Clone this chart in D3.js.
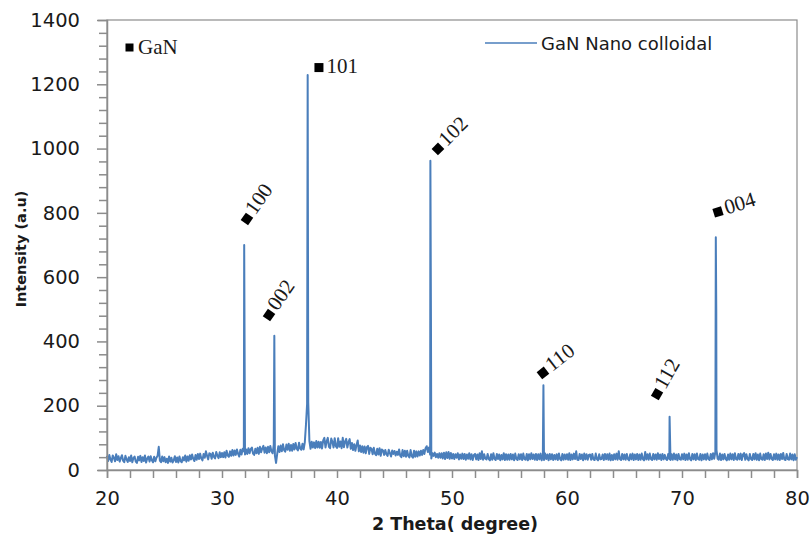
<!DOCTYPE html>
<html>
<head>
<meta charset="utf-8">
<script src="https://cdn.jsdelivr.net/npm/d3@7/dist/d3.min.js"></script>
<style>
  html, body { margin: 0; padding: 0; background: #fff; }
  svg { display: block; }
</style>
</head>
<body>
<svg id="chart" width="810" height="536"></svg>
<script>
// ---------- DATA ----------
const seriesName = "GaN Nano colloidal";
const phaseName = "GaN";
const xTicks = [20, 30, 40, 50, 60, 70, 80];
const yTicks = [0, 200, 400, 600, 800, 1000, 1200, 1400];

// background scan: 2θ from 20.0 to 80.0 in 0.1° steps
const bgStart = 20;
const bgStep = 0.1;
const background = [
  44,28,47,33,25,45,38,27,49,31,   // 20
  43,26,37,46,29,24,44,33,25,40,   // 21
  28,45,24,37,42,26,22,41,30,44,   // 22
  25,40,28,45,23,36,42,26,43,30,   // 23
  24,41,27,38,44,72,29,24,42,27,   // 24
  40,24,35,22,42,26,38,23,30,43,   // 25
  25,39,23,42,28,24,40,30,45,26,   // 26
  42,29,46,33,48,35,28,47,32,50,   // 27
  34,51,36,30,50,38,58,44,33,52,   // 28
  50,35,54,41,36,56,45,37,55,40,   // 29
  53,40,55,39,60,45,41,58,44,62,   // 30
  45,61,47,64,50,42,63,48,66,58,   // 31
  48,64,50,68,52,65,70,51,47,66,   // 32
  52,69,50,72,55,67,75,54,70,52,   // 33
  72,55,75,58,52,78,45,22,50,74,   // 34
  56,76,58,80,62,57,79,63,82,60,   // 35
  78,60,81,64,84,66,61,85,67,63,   // 36
  82,64,86,140,205,210,90,66,88,70,// 37
  86,68,90,70,88,69,87,67,92,100,  // 38
  70,89,100,72,68,98,88,70,99,74,  // 39
  69,99,72,89,68,100,71,88,97,70,  // 40
  87,96,66,84,62,80,60,78,92,58,   // 41
  76,56,74,54,73,52,71,75,50,69,   // 42
  66,49,69,51,46,66,48,68,44,64,   // 43
  61,47,62,49,44,63,52,42,61,50,   // 44
  59,45,57,47,64,44,40,62,43,60,   // 45
  41,60,44,39,62,43,38,60,41,58,   // 46
  42,58,45,60,47,62,50,68,74,56,   // 47
  70,48,36,52,44,54,40,50,38,52,   // 48
  38,52,36,54,34,55,37,56,35,53,   // 49
  36,50,34,49,38,52,33,48,35,51,   // 50
  34,50,32,48,35,52,33,49,31,47,   // 51
  50,33,48,31,52,34,58,32,49,35,   // 52
  33,50,34,30,49,32,52,35,31,50,   // 53
  34,48,30,47,33,52,31,49,32,48,   // 54
  32,50,33,48,30,51,34,31,49,33,   // 55
  49,31,51,34,32,50,30,49,33,52,   // 56
  34,48,32,50,31,49,33,51,30,47,   // 57
  31,51,34,48,30,50,33,49,31,47,   // 58
  33,49,31,51,34,30,50,32,48,33,   // 59
  49,32,52,31,48,33,51,34,58,32,   // 60
  31,50,34,48,30,51,33,49,32,47,   // 61
  48,32,50,33,31,51,34,30,49,33,   // 62
  34,48,31,50,33,49,32,51,30,47,   // 63
  31,49,33,51,32,58,34,31,50,33,   // 64
  48,32,50,34,30,49,33,51,31,48,   // 65
  33,50,31,48,32,51,34,30,56,33,   // 66
  49,32,51,34,31,50,33,48,32,52,   // 67
  34,48,31,50,33,47,35,31,50,34,   // 68
  31,49,32,51,33,48,30,50,34,32,   // 69
  49,33,51,31,48,32,52,34,30,50,   // 70
  33,49,31,51,34,32,50,30,48,33,   // 71
  49,32,51,34,31,50,33,52,35,56,   // 72
  62,35,32,51,31,48,33,50,34,30,   // 73
  48,32,51,33,49,31,52,34,32,50,   // 74
  33,51,31,48,53,32,49,34,30,50,   // 75
  34,31,50,33,52,32,48,30,51,34,   // 76
  32,49,31,51,34,54,33,50,35,31,   // 77
  49,33,51,32,48,31,50,34,53,33,   // 78
  31,50,34,32,51,33,48,30,49,32,   // 79
  40                               // 80
];

// diffraction peak maxima [2θ, intensity]
const peakTheta     = [31.93, 34.55, 37.45, 48.12, 48.17, 57.95, 68.92, 72.94, 72.98];
const peakIntensity = [700,   418,   1229,  962,   467,   264,   166,   724,   500];

// hkl annotations
const labelText  = ["100", "002", "101", "102", "110", "112", "004"];
const labelTheta = [32.17, 34.09, 38.43, 48.78, 57.91, 67.83, 73.13];
const labelInt   = [781,   482,   1252,  999,   302,   236,   803];
const labelAngle = [-55,   -55,   0,     -45,   -38,   -60,   -17];

// ---------- CHART ----------
const svg = d3.select("#chart");
const margin = { left: 107, right: 13, top: 20, bottom: 66 };
const W = 810, H = 536;
const axisColor = "#8c8c8c";
const lineColor = "#4a7ebb";

const x = d3.scaleLinear().domain([20, 80]).range([margin.left, W - margin.right]);
const y = d3.scaleLinear().domain([0, 1400]).range([H - margin.bottom, margin.top]);

// build series
const points = background.map((v, i) => [+(bgStart + i * bgStep).toFixed(2), v]);
peakTheta.forEach((t, i) => points.push([t, peakIntensity[i]]));
points.sort((a, b) => a[0] - b[0]);

// frame
svg.append("rect")
  .attr("x", x(20)).attr("y", y(1400))
  .attr("width", x(80) - x(20)).attr("height", y(0) - y(1400))
  .attr("fill", "none").attr("stroke", axisColor).attr("stroke-width", 1.2);

// data line
svg.append("path")
  .datum(points)
  .attr("fill", "none")
  .attr("stroke", lineColor)
  .attr("stroke-width", 2)
  .attr("stroke-linejoin", "round")
  .attr("d", d3.line().x(d => x(d[0])).y(d => y(d[1])));

// x axis
const xAxis = svg.append("g").attr("transform", `translate(0,${y(0)})`)
  .call(d3.axisBottom(x).tickValues(d3.range(20, 80.01, 2)).tickSize(8)
    .tickFormat(d => xTicks.includes(d) ? d : ""));
xAxis.select(".domain").attr("stroke", axisColor).attr("stroke-width", 1.5);
xAxis.selectAll(".tick line").attr("stroke", axisColor).attr("stroke-width", 1.5);
xAxis.selectAll(".tick text")
  .attr("fill", "#1a1a1a").attr("font-family", "DejaVu Sans, Verdana, sans-serif")
  .attr("font-size", 19.5).attr("dy", "1.25em");

// y axis
const yAxis = svg.append("g").attr("transform", `translate(${x(20)},0)`)
  .call(d3.axisLeft(y).tickValues(d3.range(0, 1400.01, 40)).tickSize(9)
    .tickFormat(d => yTicks.includes(d) ? d : ""));
yAxis.select(".domain").attr("stroke", axisColor).attr("stroke-width", 1.5);
yAxis.selectAll(".tick line").attr("stroke", axisColor).attr("stroke-width", 1.5)
  .attr("x2", d => yTicks.includes(d) ? -10 : -8);
yAxis.selectAll(".tick text")
  .attr("fill", "#1a1a1a").attr("font-family", "DejaVu Sans, Verdana, sans-serif")
  .attr("font-size", 19.5).attr("x", -27);

// axis titles
svg.append("text")
  .attr("x", (x(20) + x(80)) / 2 + 3).attr("y", 530)
  .attr("text-anchor", "middle")
  .attr("font-family", "DejaVu Sans, Verdana, sans-serif")
  .attr("font-weight", "bold").attr("font-size", 17.5).attr("fill", "#1a1a1a")
  .text("2 Theta( degree)");

svg.append("text")
  .attr("transform", `translate(26,${(y(0) + y(1400)) / 2 + 4}) rotate(-90)`)
  .attr("text-anchor", "middle")
  .attr("font-family", "DejaVu Sans, Verdana, sans-serif")
  .attr("font-weight", "bold").attr("font-size", 14.5).attr("fill", "#1a1a1a")
  .text("Intensity (a.u)");

// series legend
svg.append("line")
  .attr("x1", 485).attr("x2", 537).attr("y1", 43).attr("y2", 43)
  .attr("stroke", lineColor).attr("stroke-width", 1.6);
svg.append("text")
  .attr("x", 541).attr("y", 49.5)
  .attr("font-family", "DejaVu Sans, Verdana, sans-serif")
  .attr("font-size", 18).attr("fill", "#1a1a1a")
  .text(seriesName);

// phase legend
svg.append("rect").attr("x", 125.5).attr("y", 43.5).attr("width", 8).attr("height", 8).attr("fill", "#000");
svg.append("text")
  .attr("x", 138).attr("y", 53.5)
  .attr("font-family", "Liberation Serif, Times New Roman, serif")
  .attr("font-size", 21).attr("fill", "#1a1a1a")
  .text(phaseName);

// hkl labels
labelText.forEach((t, i) => {
  const g = svg.append("g")
    .attr("transform", `translate(${x(labelTheta[i])},${y(labelInt[i])}) rotate(${labelAngle[i]})`);
  g.append("rect").attr("x", -4.5).attr("y", -4.5).attr("width", 9).attr("height", 9).attr("fill", "#000");
  g.append("text")
    .attr("x", 7.5).attr("y", 5)
    .attr("font-family", "Liberation Serif, Times New Roman, serif")
    .attr("font-size", 21).attr("fill", "#1a1a1a")
    .text(t);
});
</script>
</body>
</html>
